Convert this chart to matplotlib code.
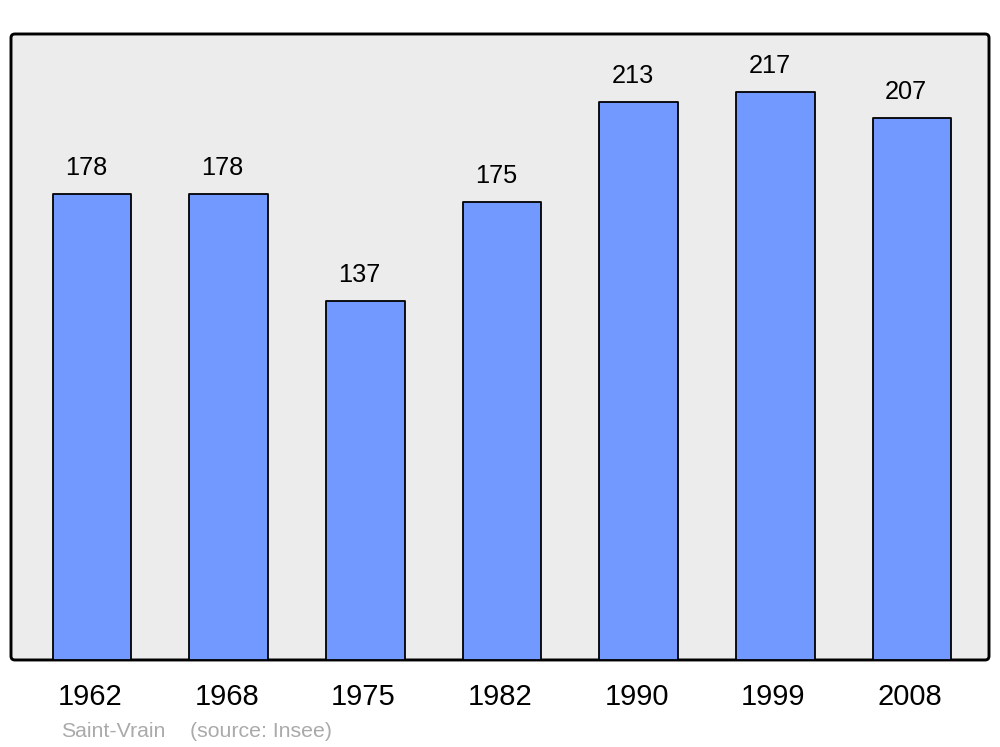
import matplotlib
matplotlib.use('Agg')
import matplotlib.pyplot as plt
from matplotlib.patches import FancyBboxPatch

plt.rcParams['font.family'] = ['Liberation Sans', 'DejaVu Sans']

years = ['1962', '1968', '1975', '1982', '1990', '1999', '2008']
population = [178, 178, 137, 175, 213, 217, 207]

fig = plt.figure(figsize=(10, 7.47), dpi=100)
ax = fig.add_axes([0.011, 0.1165, 0.978, 0.838])
ax.patch.set_visible(False)
for s in ax.spines.values():
    s.set_visible(False)

# rounded frame behind everything
frame = FancyBboxPatch((0, 0), 1, 1, boxstyle='round,pad=0,rounding_size=0.004',
                       mutation_aspect=978 / 626, transform=ax.transAxes,
                       facecolor='#ececec', edgecolor='black', linewidth=2.1,
                       zorder=0, clip_on=False)
ax.add_patch(frame)

x = list(range(len(years)))
bars = ax.bar(x, population, width=0.575, color='#7299ff', edgecolor='black',
              linewidth=1.3, zorder=2)
for b in bars:
    b.set_joinstyle('round')

for xi, v in zip(x, population):
    ax.annotate(str(v), (xi, v), xytext=(-4.3, 13.5), textcoords='offset points',
                ha='center', va='baseline', fontsize=18.3)

for xi, yr in zip(x, years):
    ax.annotate(yr, (xi, 0), xytext=(-1.5, -32.5), textcoords='offset points',
                ha='center', va='baseline', fontsize=21)

ax.set_xlim(-0.593, 6.563)
ax.set_ylim(0, 239)
ax.set_yticks([])
ax.set_xticks([])

fig.text(0.061, 0.0134, 'Saint-Vrain', fontsize=15.3, color='#aaaaaa', va='baseline')
fig.text(0.190, 0.0134, '(source: Insee)', fontsize=15.3, color='#aaaaaa', va='baseline')

fig.savefig('out.png', dpi=100)
